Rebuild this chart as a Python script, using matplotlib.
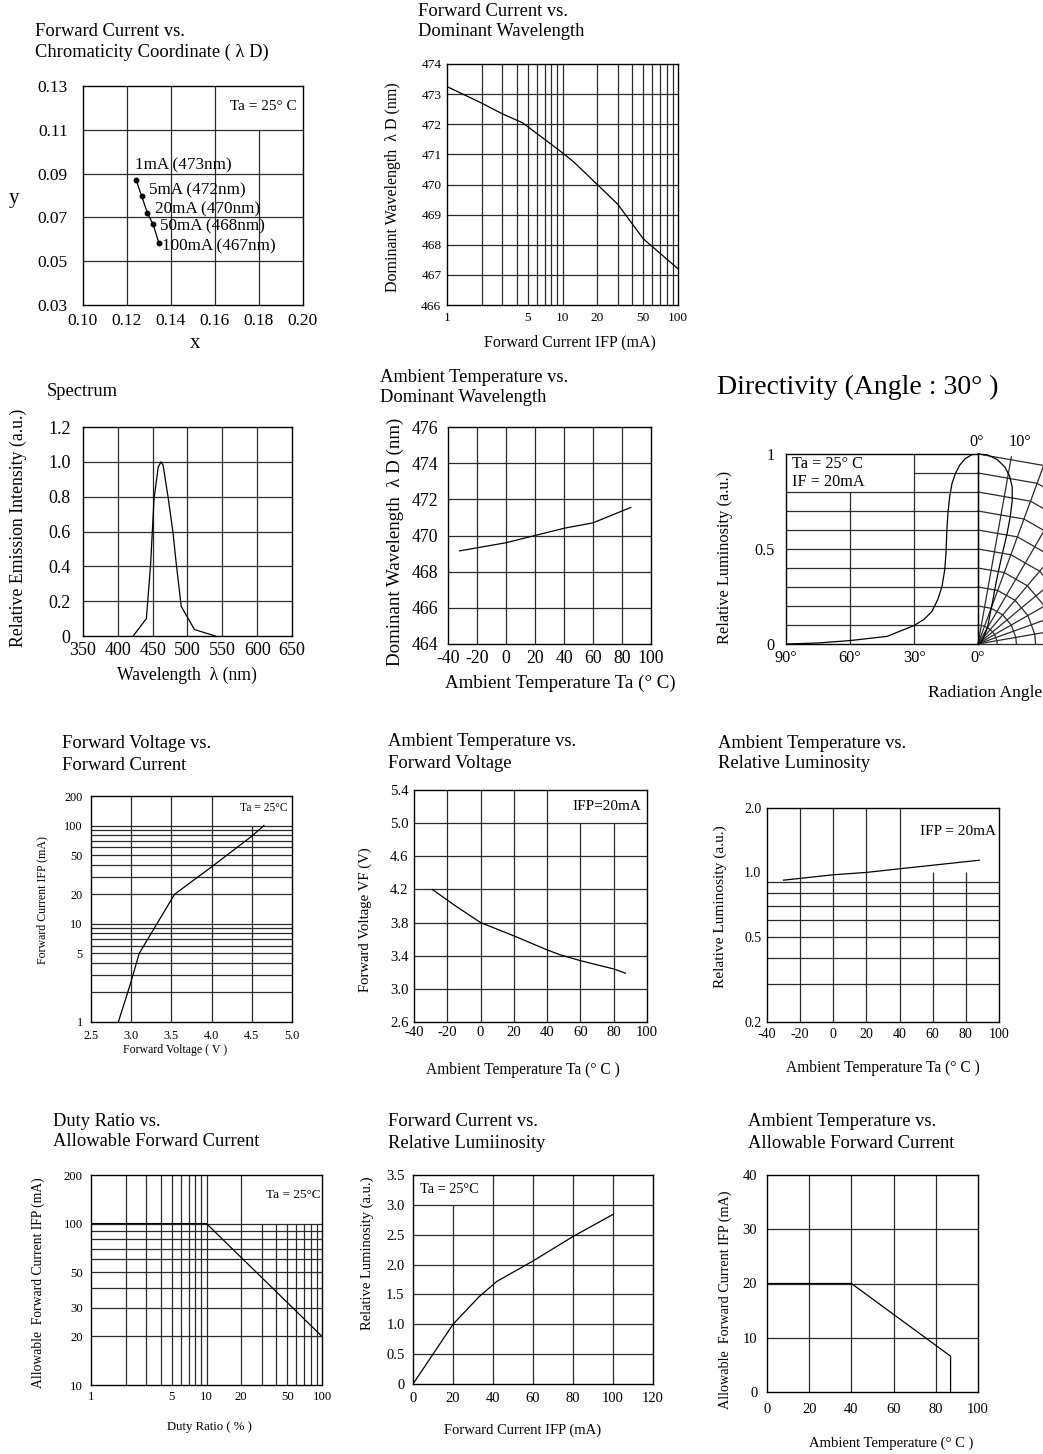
import numpy as np
import matplotlib
matplotlib.use('Agg')
import matplotlib.pyplot as plt
from matplotlib.ticker import NullLocator, NullFormatter

plt.rcParams['font.family'] = ['Liberation Serif', 'DejaVu Serif']

# ---- data ----
chrom_x = [0.1242, 0.1266, 0.1293, 0.1319, 0.1345]
chrom_y = [0.0869, 0.0799, 0.0719, 0.0668, 0.0582]
chrom_lbl = ['1mA (473nm)', '5mA (472nm)', '20mA (470nm)', '50mA (468nm)', '100mA (467nm)']

fc_i = [1, 2, 3, 4.5, 7, 10, 12.5, 20, 30, 50, 100]
fc_wl = [473.25, 472.7, 472.35, 472.05, 471.5, 471.05, 470.75, 470.0, 469.35, 468.2, 467.2]

spec_wl = [422, 441, 447, 452, 458, 462, 465, 472, 479, 484, 491, 510, 540]
spec_i = [0, 0.10, 0.41, 0.79, 0.97, 1.0, 0.98, 0.80, 0.60, 0.41, 0.17, 0.037, 0]

ta_t = [-32, 0, 20, 40, 60, 86]
ta_wl = [469.15, 469.6, 470.0, 470.4, 470.7, 471.55]

dir_ang = [0, 2.8, 5.9, 8.6, 10.6, 12.2, 13.3, 14.1, 14.6, 15.0, 15.6, 16.9, 18.9,
           21.6, 25.5, 30.2, 42.7, 60, 75.6, 89.7]
dir_lum = [1.0, 0.997, 0.976, 0.941, 0.897, 0.844, 0.774, 0.687, 0.600, 0.477, 0.390,
           0.302, 0.233, 0.171, 0.128, 0.096, 0.04, 0.018, 0.005, 0]

vf_v = [2.84, 2.98, 3.10, 3.32, 3.54, 4.0, 4.5, 4.65]
vf_i = [1, 2.3, 5, 10, 20, 38, 78, 100]

tv_t = [-29, -15, 0, 20, 40, 48, 60, 80, 87]
tv_v = [4.2, 4.0, 3.8, 3.64, 3.47, 3.41, 3.34, 3.24, 3.19]

tl_t = [-30, 0, 20, 40, 88]
tl_l = [0.92, 0.975, 1.0, 1.04, 1.14]

duty = [1, 10, 100]
duty_i = [100, 100, 20]

fl_i = [0, 20, 33, 42, 60, 80, 100]
fl_l = [0, 1.0, 1.46, 1.72, 2.06, 2.47, 2.84]

ta_a = [0, 40, 87, 87]
ta_ia = [20, 20, 6.6, 0]

W, H = 1043, 1454
fig = plt.figure(figsize=(W / 100, H / 100), dpi=100)
GC = '#2a2a2a'
GL = 0.9


def panel(l, t, r, b):
    ax = fig.add_axes([l / W, 1 - b / H, (r - l) / W, (b - t) / H])
    for s in ax.spines.values():
        s.set_linewidth(1.0)
        s.set_color('black')
    ax.tick_params(length=0)
    return ax


def ft(x, y, s, size, **kw):
    kw.setdefault('va', 'center')
    fig.text(x / W, 1 - y / H, s, fontsize=size, **kw)


def title(x, y1, y2, l1, l2, size=13.3):
    ft(x, y1, l1, size)
    if l2:
        ft(x, y2, l2, size)


def nominor(ax):
    for a in (ax.xaxis, ax.yaxis):
        a.set_minor_locator(NullLocator())
        a.set_minor_formatter(NullFormatter())


# ---- 1: chromaticity ----
ax = panel(83, 86, 303, 305)
ax.set_xlim(0.10, 0.20)
ax.set_ylim(0.03, 0.13)
ax.vlines([0.12, 0.14, 0.16], 0.03, 0.13, color=GC, lw=GL)
ax.vlines([0.18], 0.03, 0.11, color=GC, lw=GL)
ax.hlines([0.05, 0.07, 0.09, 0.11], 0.10, 0.20, color=GC, lw=GL)
ax.plot(chrom_x, chrom_y, color='black', lw=0.9, marker='o', ms=3.2)
offs = [(-1, 15), (7, 5), (8, 4), (7, -2), (3, -3.5)]
for xx, yy, s, o in zip(chrom_x, chrom_y, chrom_lbl, offs):
    ax.annotate(s, (xx, yy), xytext=o, textcoords='offset pixels', fontsize=12.3,
                va='center', ha='left')
ax.text(0.197, 0.1205, 'Ta = 25° C', fontsize=11, ha='right', va='center')
ax.set_xticks([0.10, 0.12, 0.14, 0.16, 0.18, 0.20],
              labels=['0.10', '0.12', '0.14', '0.16', '0.18', '0.20'])
ax.set_yticks([0.03, 0.05, 0.07, 0.09, 0.11, 0.13],
              labels=['0.03', '0.05', '0.07', '0.09', '0.11', '0.13'])
ax.tick_params(labelsize=12.5)
ax.tick_params(axis='y', pad=11)
ax.tick_params(axis='x', pad=6)
ft(14, 198, 'y', 15, ha='center')
ft(195, 343, 'x', 15, ha='center')
title(35, 31, 52, 'Forward Current vs.', 'Chromaticity Coordinate ( λ D)')

# ---- 2: forward current vs dominant wavelength ----
ax = panel(447, 64, 678, 305)
ax.set_xscale('log')
ax.set_xlim(1, 100)
ax.set_ylim(466, 474)
nominor(ax)
ax.vlines([2, 3, 4, 5, 6, 7, 8, 9, 10, 20, 30, 40, 50, 60, 70, 80, 90], 466, 474, color=GC, lw=GL)
ax.hlines(range(467, 474), 1, 100, color=GC, lw=GL)
ax.plot(fc_i, fc_wl, color='black', lw=0.9)
ax.set_xticks([1, 5, 10, 20, 50, 100], labels=['1', '5', '10', '20', '50', '100'])
ax.set_yticks(range(466, 475), labels=[str(v) for v in range(466, 475)])
ax.tick_params(labelsize=9.6)
ax.tick_params(axis='y', pad=4)
ax.tick_params(axis='x', pad=5)
ft(393, 187, 'Dominant Wavelength  λ D (nm)', 11.5, ha='center', rotation=90)
ft(570, 342, 'Forward Current IFP (mA)', 11.5, ha='center')
title(418, 12, 32, 'Forward Current vs.', 'Dominant Wavelength')

# ---- 3: spectrum ----
ax = panel(83, 427, 292, 636)
ax.set_xlim(350, 650)
ax.set_ylim(0, 1.2)
ax.vlines([400, 450, 500, 550, 600], 0, 1.2, color=GC, lw=GL)
ax.hlines([0.2, 0.4, 0.6, 0.8, 1.0], 350, 650, color=GC, lw=GL)
ax.plot(spec_wl, spec_i, color='black', lw=0.9)
ax.set_xticks(range(350, 651, 50), labels=[str(v) for v in range(350, 651, 50)])
ax.set_yticks([0, 0.2, 0.4, 0.6, 0.8, 1.0, 1.2],
              labels=['0', '0.2', '0.4', '0.6', '0.8', '1.0', '1.2'])
ax.tick_params(labelsize=13)
ax.tick_params(axis='y', pad=9)
ax.tick_params(axis='x', pad=4)
ft(18, 528, 'Relative Emission Intensity (a.u.)', 12.8, ha='center', rotation=90)
ft(187, 675, 'Wavelength  λ (nm)', 12.7, ha='center')
title(47, 392, None, 'Spectrum', None)

# ---- 4: ambient temperature vs dominant wavelength ----
ax = panel(448, 427, 651, 644)
ax.set_xlim(-40, 100)
ax.set_ylim(464, 476)
ax.vlines(range(-20, 100, 20), 464, 476, color=GC, lw=GL)
ax.hlines(range(466, 476, 2), -40, 100, color=GC, lw=GL)
ax.plot(ta_t, ta_wl, color='black', lw=0.9)
ax.set_xticks(range(-40, 101, 20), labels=[str(v) for v in range(-40, 101, 20)])
ax.set_yticks(range(464, 477, 2), labels=[str(v) for v in range(464, 477, 2)])
ax.tick_params(labelsize=12.8)
ax.tick_params(axis='y', pad=7)
ax.tick_params(axis='x', pad=4)
ft(395, 542, 'Dominant Wavelength  λ D (nm)', 13.6, ha='center', rotation=90)
ft(560, 683, 'Ambient Temperature Ta (° C)', 13.6, ha='center')
title(380, 378, 398, 'Ambient Temperature vs.', 'Dominant Wavelength')

# ---- 5: directivity ----
ax = panel(786, 454, 978, 644)
ax.set_xlim(-1, 0)
ax.set_ylim(0, 1)
ax.hlines(np.arange(1, 9) / 10, -1, 0, color=GC, lw=GL)
ax.hlines([0.9], -1 / 3, 0, color=GC, lw=GL)
ax.vlines([-2 / 3], 0, 0.8, color=GC, lw=GL)
ax.vlines([-1 / 3], 0, 1, color=GC, lw=GL)
ax.plot([-a / 90 for a in dir_ang], dir_lum, color='black', lw=0.9)
# polar half on the right of 0 deg, runs past the page edge
ring_ang = np.radians([0, 20, 40, 60, 80, 90])
for r in np.arange(1, 11) / 10:
    ax.plot(r * np.sin(ring_ang), r * np.cos(ring_ang), color=GC, lw=GL, clip_on=False)
for a in np.radians(np.arange(0, 91, 10)):
    ax.plot([0, np.sin(a)], [0, np.cos(a)], color=GC, lw=GL, clip_on=False)
pa = np.radians(dir_ang)
ax.plot(np.array(dir_lum) * np.sin(pa), np.array(dir_lum) * np.cos(pa),
        color='black', lw=0.9, clip_on=False)
ax.text(-0.97, 0.947, 'Ta = 25° C', fontsize=11.7, va='center')
ax.text(-0.97, 0.852, 'IF = 20mA', fontsize=11.7, va='center')
ax.set_xticks([-1, -2 / 3, -1 / 3, 0], labels=['90°', '60°', '30°', '0°'])
ax.set_yticks([0, 0.5, 1], labels=['0', '0.5', '1'])
ax.tick_params(labelsize=11.7)
ax.tick_params(axis='y', pad=8)
ax.tick_params(axis='x', pad=4)
ft(977, 442, '0°', 11.7, ha='center')
ft(1020, 442, '10°', 11.7, ha='center')
ft(725, 557, 'Relative Luminosity (a.u.)', 11.8, ha='center', rotation=90)
ft(928, 693, 'Radiation Angle', 12.6, ha='left')
ft(717, 387, 'Directivity (Angle : 30° )', 20, ha='left')

# ---- 6: forward voltage vs forward current ----
ax = panel(91, 796, 292, 1022)
ax.set_yscale('log')
ax.set_xlim(2.5, 5.0)
ax.set_ylim(1, 200)
nominor(ax)
ax.hlines([2, 3, 4, 5, 6, 7, 8, 9, 10, 20, 30, 40, 50, 60, 70, 80, 90, 100], 2.5, 5.0, color=GC, lw=GL)
ax.vlines([3.0, 3.5, 4.0], 1, 200, color=GC, lw=GL)
ax.vlines([4.5], 1, 100, color=GC, lw=GL)
ax.plot(vf_v, vf_i, color='black', lw=0.9)
ax.text(4.95, 150, 'Ta = 25°C', fontsize=8.3, ha='right', va='center')
ax.set_xticks([2.5, 3.0, 3.5, 4.0, 4.5, 5.0], labels=['2.5', '3.0', '3.5', '4.0', '4.5', '5.0'])
ax.set_yticks([1, 5, 10, 20, 50, 100, 200], labels=['1', '5', '10', '20', '50', '100', '200'])
ax.tick_params(labelsize=8.8)
ax.tick_params(axis='y', pad=6)
ax.tick_params(axis='x', pad=6)
ft(42, 900, 'Forward Current IFP (mA)', 8.6, ha='center', rotation=90)
ft(175, 1050, 'Forward Voltage ( V )', 8.6, ha='center')
title(62, 743, 765, 'Forward Voltage vs.', 'Forward Current')

# ---- 7: ambient temperature vs forward voltage ----
ax = panel(414, 790, 647, 1022)
ax.set_xlim(-40, 100)
ax.set_ylim(2.6, 5.4)
ax.hlines([3.0, 3.4, 3.8, 4.2, 4.6, 5.0], -40, 100, color=GC, lw=GL)
ax.vlines([-20, 0, 20, 40], 2.6, 5.4, color=GC, lw=GL)
ax.vlines([60, 80], 2.6, 5.0, color=GC, lw=GL)
ax.plot(tv_t, tv_v, color='black', lw=0.9)
ax.text(76, 5.2, 'IFP=20mA', fontsize=11, ha='center', va='center')
ax.set_xticks(range(-40, 101, 20), labels=[str(v) for v in range(-40, 101, 20)])
ax.set_yticks([2.6, 3.0, 3.4, 3.8, 4.2, 4.6, 5.0, 5.4],
              labels=['2.6', '3.0', '3.4', '3.8', '4.2', '4.6', '5.0', '5.4'])
ax.tick_params(labelsize=10.6)
ax.tick_params(axis='y', pad=4)
ax.tick_params(axis='x', pad=3)
ft(365, 920, 'Forward Voltage VF (V)', 10.6, ha='center', rotation=90)
ft(523, 1070, 'Ambient Temperature Ta (° C )', 11.2, ha='center')
title(388, 742, 764, 'Ambient Temperature vs.', 'Forward Voltage')

# ---- 8: ambient temperature vs relative luminosity ----
ax = panel(767, 808, 999, 1022)
ax.set_yscale('log')
ax.set_xlim(-40, 100)
ax.set_ylim(0.2, 2.0)
nominor(ax)
ax.hlines([0.3, 0.4, 0.5, 0.6, 0.7, 0.8, 0.9], -40, 100, color=GC, lw=GL)
ax.vlines([-20, 0, 20, 40], 0.2, 2.0, color=GC, lw=GL)
ax.vlines([60, 80], 0.2, 1.0, color=GC, lw=GL)
ax.plot(tl_t, tl_l, color='black', lw=0.9)
ax.text(75, 1.55, 'IFP = 20mA', fontsize=11, ha='center', va='center')
ax.set_xticks(range(-40, 101, 20), labels=[str(v) for v in range(-40, 101, 20)])
ax.set_yticks([0.2, 0.5, 1.0, 2.0], labels=['0.2', '0.5', '1.0', '2.0'])
ax.tick_params(labelsize=10)
ax.tick_params(axis='y', pad=4)
ax.tick_params(axis='x', pad=4)
ft(720, 907, 'Relative Luminosity (a.u.)', 11.1, ha='center', rotation=90)
ft(883, 1068, 'Ambient Temperature Ta (° C )', 11.2, ha='center')
title(718, 743, 764, 'Ambient Temperature vs.', 'Relative Luminosity')

# ---- 9: duty ratio vs allowable forward current ----
ax = panel(91, 1175, 322, 1385)
ax.set_xscale('log')
ax.set_yscale('log')
ax.set_xlim(1, 100)
ax.set_ylim(10, 200)
nominor(ax)
ax.hlines([20, 30, 40, 50, 60, 70, 80, 90, 100], 1, 100, color=GC, lw=GL)
ax.vlines([2, 3, 4, 5, 6, 7, 8, 9, 10, 20], 10, 200, color=GC, lw=GL)
ax.vlines([30, 40, 50, 60, 70, 80, 90], 10, 100, color=GC, lw=GL)
ax.plot(duty, duty_i, color='black', lw=0.9)
ax.text(97, 150, 'Ta = 25°C', fontsize=9.5, ha='right', va='center')
ax.set_xticks([1, 5, 10, 20, 50, 100], labels=['1', '5', '10', '20', '50', '100'])
ax.set_yticks([10, 20, 30, 50, 100, 200], labels=['10', '20', '30', '50', '100', '200'])
ax.tick_params(labelsize=9.2)
ax.tick_params(axis='y', pad=6)
ax.tick_params(axis='x', pad=4)
ft(38, 1283, 'Allowable  Forward Current IFP (mA)', 9.8, ha='center', rotation=90)
ft(209, 1427, 'Duty Ratio ( % )', 9.2, ha='center')
title(53, 1122, 1142, 'Duty Ratio vs.', 'Allowable Forward Current')

# ---- 10: forward current vs relative luminosity ----
ax = panel(413, 1175, 653, 1384)
ax.set_xlim(0, 120)
ax.set_ylim(0, 3.5)
ax.hlines([0.5, 1.0, 1.5, 2.0, 2.5, 3.0], 0, 120, color=GC, lw=GL)
ax.vlines([20], 0, 3.0, color=GC, lw=GL)
ax.vlines([40, 60, 80, 100], 0, 3.5, color=GC, lw=GL)
ax.plot(fl_i, fl_l, color='black', lw=0.9)
ax.text(3.5, 3.26, 'Ta = 25°C', fontsize=10.3, ha='left', va='center')
ax.set_xticks(range(0, 121, 20), labels=[str(v) for v in range(0, 121, 20)])
ax.set_yticks([0, 0.5, 1.0, 1.5, 2.0, 2.5, 3.0, 3.5],
              labels=['0', '0.5', '1.0', '1.5', '2.0', '2.5', '3.0', '3.5'])
ax.tick_params(labelsize=10.5)
ax.tick_params(axis='y', pad=6)
ax.tick_params(axis='x', pad=6)
ft(367, 1253, 'Relative Luminosity (a.u.)', 10.5, ha='center', rotation=90)
ft(523, 1430, 'Forward Current IFP (mA)', 10.5, ha='center')
title(388, 1121, 1143, 'Forward Current vs.', 'Relative Lumiinosity')

# ---- 11: ambient temperature vs allowable forward current ----
ax = panel(767, 1175, 978, 1392)
ax.set_xlim(0, 100)
ax.set_ylim(0, 40)
ax.hlines([10, 20, 30], 0, 100, color=GC, lw=GL)
ax.vlines([20, 40, 60, 80], 0, 40, color=GC, lw=GL)
ax.plot(ta_a, ta_ia, color='black', lw=0.9)
ax.set_xticks(range(0, 101, 20), labels=[str(v) for v in range(0, 101, 20)])
ax.set_yticks(range(0, 41, 10), labels=[str(v) for v in range(0, 41, 10)])
ax.tick_params(labelsize=10.5)
ax.tick_params(axis='y', pad=7)
ax.tick_params(axis='x', pad=8)
ft(725, 1300, 'Allowable  Forward Current IFP (mA)', 10.2, ha='center', rotation=90)
ft(891, 1443, 'Ambient Temperature (° C )', 10.5, ha='center')
title(748, 1122, 1143, 'Ambient Temperature vs.', 'Allowable Forward Current')

fig.savefig('out.png', dpi=100)
